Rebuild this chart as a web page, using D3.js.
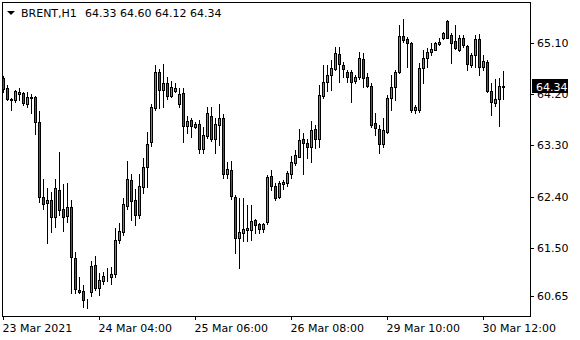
<!DOCTYPE html>
<html>
<head>
<meta charset="utf-8">
<script src="https://cdn.jsdelivr.net/npm/d3@7"></script>
<style>
  html, body { margin: 0; padding: 0; background: #fff; }
  svg { display: block; }
  text { font-family: "DejaVu Sans", sans-serif; font-size: 11px; fill: #000; }
</style>
</head>
<body>
<svg id="chart" width="580" height="340"></svg>
<script>
// BRENT H1 bars
const opens = [
  64.48, 64.31, 64.12, 64.10, 64.20, 64.22, 64.03, 64.13, 64.15, 63.71,
  62.39, 62.29, 62.34, 62.04, 62.51, 62.18, 62.06, 62.22, 61.32, 60.76,
  60.74, 60.56, 60.72, 61.20, 60.79, 60.91, 61.00, 60.98, 61.04, 61.63,
  61.78, 62.23, 62.69, 62.34, 62.07, 62.57, 62.92, 63.36, 63.96, 64.59,
  64.27, 64.40, 64.17, 64.26, 64.03, 64.22, 63.64, 63.75, 63.62, 63.68,
  63.24, 63.46, 63.82, 63.41, 63.66, 63.78, 62.80, 62.87, 62.39, 61.67,
  61.76, 61.81, 61.81, 61.99, 61.92, 61.83, 61.95, 62.76, 62.58, 62.39,
  62.62, 62.64, 62.80, 62.99, 63.09, 63.41, 63.34, 63.27, 63.59, 63.41,
  64.17, 64.41, 64.54, 64.64, 64.91, 64.71, 64.59, 64.59, 64.43, 64.50,
  64.82, 64.50, 64.34, 63.69, 63.59, 63.32, 63.53, 64.13, 64.33, 64.59,
  65.22, 65.17, 65.10, 63.92, 63.92, 64.66, 64.84, 64.94, 64.98, 65.08,
  65.19, 65.49, 65.24, 65.14, 64.98, 65.19, 65.05, 64.71, 64.89, 65.17,
  64.68, 64.77, 64.26, 64.04, 64.12, 64.33
];
const highs = [
  64.52, 64.36, 64.14, 64.27, 64.31, 64.24, 64.24, 64.20, 64.17, 63.90,
  62.71, 62.55, 62.48, 62.71, 63.18, 62.62, 62.64, 62.34, 61.42, 60.98,
  60.84, 60.60, 61.27, 61.35, 61.05, 61.07, 61.14, 61.16, 61.85, 61.93,
  62.37, 63.02, 62.80, 62.53, 62.80, 63.08, 63.53, 64.03, 64.71, 64.64,
  64.73, 64.50, 64.43, 64.40, 64.31, 64.31, 63.82, 63.78, 63.71, 63.75,
  63.62, 63.97, 63.97, 63.78, 64.03, 63.85, 63.01, 63.02, 62.43, 62.37,
  62.37, 62.25, 62.25, 62.00, 61.93, 61.93, 62.78, 62.87, 62.64, 62.67,
  62.69, 62.85, 63.11, 63.22, 63.59, 63.52, 63.41, 63.73, 63.66, 64.36,
  64.71, 64.71, 64.80, 65.03, 65.03, 64.77, 64.63, 64.63, 64.54, 64.94,
  64.92, 64.57, 64.40, 63.87, 63.66, 63.78, 64.19, 64.54, 64.63, 65.42,
  65.52, 65.21, 65.12, 64.01, 64.75, 64.98, 65.01, 65.10, 65.12, 65.19,
  65.29, 65.50, 65.28, 65.42, 65.24, 65.24, 65.06, 64.92, 65.24, 65.26,
  64.89, 64.80, 64.40, 64.47, 64.48, 64.60
];
const lows = [
  64.24, 64.10, 63.92, 64.06, 64.10, 64.01, 63.97, 63.87, 63.50, 62.30,
  62.18, 61.58, 61.78, 61.86, 62.07, 61.79, 61.95, 60.70, 60.70, 60.70,
  60.46, 60.44, 60.65, 60.76, 60.67, 60.86, 60.91, 60.86, 60.98, 61.58,
  61.72, 62.18, 61.99, 61.90, 62.02, 62.46, 62.57, 63.29, 63.92, 63.96,
  63.97, 64.12, 64.15, 64.24, 63.97, 63.36, 63.52, 63.45, 63.60, 63.17,
  63.17, 63.43, 63.38, 63.17, 63.31, 62.73, 62.73, 62.36, 61.41, 61.14,
  61.62, 61.62, 61.63, 61.76, 61.76, 61.78, 61.92, 62.51, 62.34, 62.37,
  62.53, 62.58, 62.73, 62.95, 63.09, 62.80, 63.08, 63.01, 63.25, 63.27,
  64.13, 64.26, 64.27, 64.63, 64.41, 64.50, 64.41, 64.06, 64.40, 64.47,
  64.33, 64.33, 63.62, 63.48, 63.17, 63.27, 63.52, 63.92, 64.10, 64.57,
  65.12, 64.68, 63.89, 63.87, 63.89, 64.40, 64.68, 64.89, 64.98, 65.06,
  65.17, 65.19, 64.75, 64.99, 64.96, 65.03, 64.63, 64.68, 64.68, 64.54,
  64.63, 64.24, 63.83, 63.99, 63.64, 64.12
];
const closes = [
  64.29, 64.12, 64.10, 64.26, 64.24, 64.04, 64.15, 64.15, 63.71, 62.39,
  62.27, 62.34, 62.04, 62.55, 62.16, 62.04, 62.22, 61.34, 60.77, 60.72,
  60.58, 60.57, 61.18, 60.79, 60.93, 61.00, 61.01, 61.04, 61.63, 61.79,
  62.27, 62.71, 62.32, 62.07, 62.58, 62.92, 63.32, 63.97, 64.59, 64.27,
  64.40, 64.17, 64.33, 64.31, 64.20, 63.64, 63.73, 63.64, 63.68, 63.24,
  63.48, 63.87, 63.41, 63.68, 63.78, 62.80, 62.88, 62.41, 61.67, 61.78,
  61.83, 61.85, 61.97, 61.90, 61.83, 61.92, 62.74, 62.58, 62.37, 62.64,
  62.65, 62.81, 63.01, 63.13, 63.39, 63.34, 63.27, 63.57, 63.41, 64.19,
  64.41, 64.54, 64.66, 64.92, 64.73, 64.64, 64.50, 64.41, 64.50, 64.84,
  64.48, 64.34, 63.66, 63.60, 63.32, 63.57, 64.13, 64.33, 64.59, 65.22,
  65.15, 65.10, 63.92, 63.97, 64.66, 64.84, 64.94, 64.99, 65.10, 65.12,
  65.28, 65.19, 65.10, 65.01, 65.19, 65.06, 64.73, 64.89, 65.17, 64.68,
  64.78, 64.26, 64.06, 64.12, 64.34, 64.34
];

// axis labels
const yTicks = [60.65, 61.50, 62.40, 63.30, 64.20, 65.10];
const xTickBars = [0, 24, 48, 72, 96, 120];
const xTickLabels = ["23 Mar 2021", "24 Mar 04:00", "25 Mar 06:00", "26 Mar 08:00", "29 Mar 10:00", "30 Mar 12:00"];
const symbol = "BRENT,H1";
const lastPrice = 64.34;

const bars = opens.map((o, i) => ({ i, o, h: highs[i], l: lows[i], c: closes[i] }));

const svg = d3.select("#chart");
const frame = { left: 2, top: 2, right: 530, bottom: 316 };

const x = d3.scaleLinear().domain([0, bars.length - 1]).range([3, 503]);
const y = d3.scaleLinear().domain([60.65, 65.10]).rangeRound([296, 43]);

// frame
svg.append("rect")
  .attr("x", frame.left + 0.5)
  .attr("y", frame.top + 0.5)
  .attr("width", frame.right - frame.left)
  .attr("height", frame.bottom - frame.top)
  .attr("fill", "#fff")
  .attr("stroke", "#000")
  .attr("stroke-width", 1);

svg.append("clipPath").attr("id", "plot-clip")
  .append("rect")
  .attr("x", frame.left + 1).attr("y", frame.top + 1)
  .attr("width", frame.right - frame.left - 1)
  .attr("height", frame.bottom - frame.top - 1);

const plot = svg.append("g").attr("clip-path", "url(#plot-clip)");

const candle = plot.selectAll("g.bar")
  .data(bars)
  .enter()
  .append("g")
  .attr("class", "bar");

// wicks
candle.append("line")
  .attr("x1", (d) => x(d.i) + 0.5)
  .attr("x2", (d) => x(d.i) + 0.5)
  .attr("y1", (d) => y(d.h))
  .attr("y2", (d) => y(d.l) + 1)
  .attr("stroke", "#000")
  .attr("stroke-width", 1);

// bodies
candle.append("rect")
  .attr("x", (d) => x(d.i) - 0.5)
  .attr("y", (d) => Math.min(y(d.o), y(d.c)) + 0.5)
  .attr("width", 2)
  .attr("height", (d) => Math.abs(y(d.o) - y(d.c)))
  .attr("fill", (d) => (d.c >= d.o ? "#3fae3f" : "#e31a1a"))
  .attr("stroke", "#000")
  .attr("stroke-width", 1);

// price axis on the right
const yAxis = svg.append("g")
  .attr("transform", `translate(${frame.right},0)`)
  .call(d3.axisRight(y).tickValues(yTicks).tickSize(4).tickPadding(3).tickFormat(d3.format(".2f")));
yAxis.select(".domain").remove();
yAxis.selectAll("text").attr("font-family", null).attr("font-size", null).attr("fill", "#000");

// time axis at the bottom
const xAxis = svg.append("g")
  .attr("transform", `translate(0,${frame.bottom})`)
  .call(d3.axisBottom(x).tickValues(xTickBars).tickSize(4).tickPadding(4)
    .tickFormat((d) => xTickLabels[xTickBars.indexOf(d)]));
xAxis.select(".domain").remove();
xAxis.selectAll("text")
  .attr("font-family", null).attr("font-size", null).attr("fill", "#000")
  .attr("text-anchor", "start")
  .attr("x", -1);

// current price tag
svg.append("rect")
  .attr("x", 532).attr("y", y(lastPrice) - 7)
  .attr("width", 36).attr("height", 14)
  .attr("fill", "#000");
svg.append("text")
  .attr("x", 536).attr("y", y(lastPrice) + 5)
  .style("fill", "#fff")
  .text(d3.format(".2f")(lastPrice));

// title: symbol and last bar OHLC
const last = bars[bars.length - 1];
svg.append("path")
  .attr("d", "M7,11 L15,11 L11,15 Z")
  .attr("fill", "#000");
svg.append("text").attr("x", 21).attr("y", 17).text(symbol);
svg.append("text").attr("x", 85).attr("y", 17)
  .text([last.o, last.h, last.l, last.c].map(d3.format(".2f")).join(" "));
</script>
</body>
</html>
